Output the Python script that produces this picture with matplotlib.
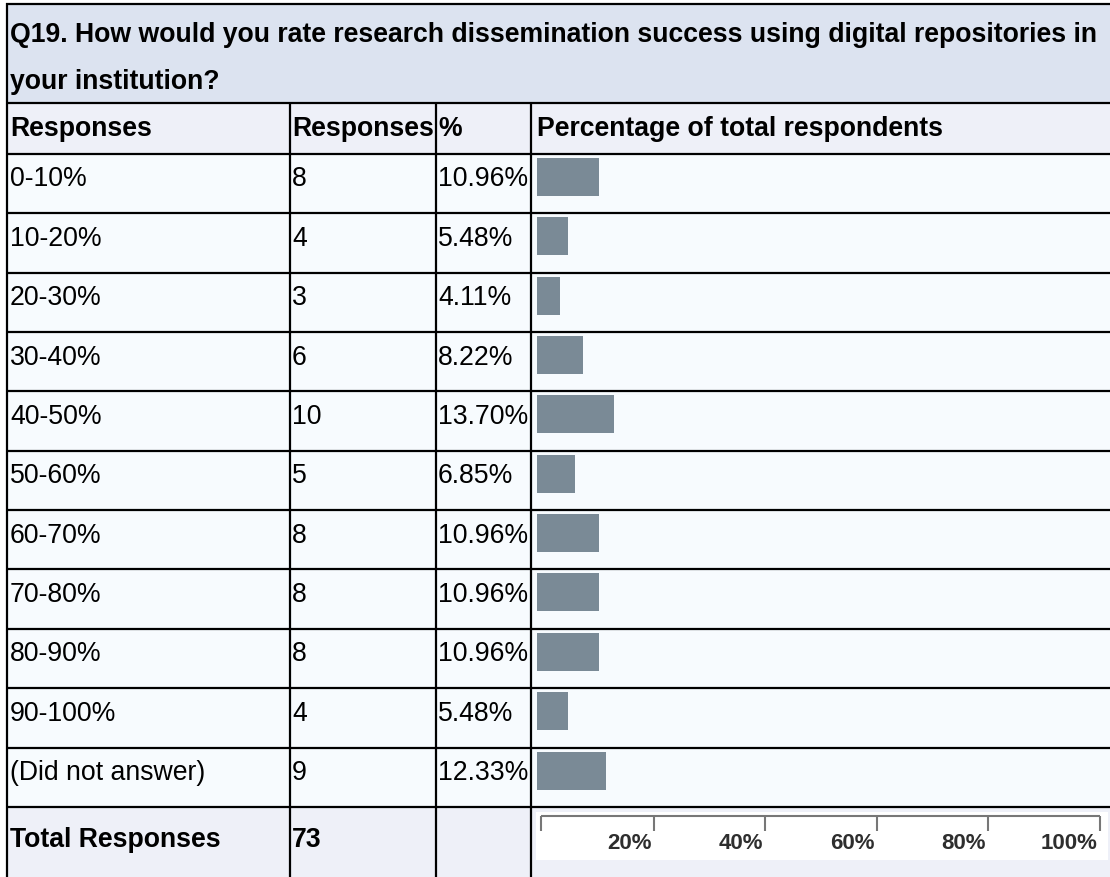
import matplotlib
matplotlib.use("Agg")
import matplotlib.pyplot as plt
from matplotlib.patches import Rectangle

# ---- survey data -------------------------------------------------------
title_lines = [
    "Q19. How would you rate research dissemination success using digital repositories in",
    "your institution?",
]
header = ["Responses", "Responses", "%", "Percentage of total respondents"]
categories = ["0-10%", "10-20%", "20-30%", "30-40%", "40-50%", "50-60%",
              "60-70%", "70-80%", "80-90%", "90-100%", "(Did not answer)"]
counts = [8, 4, 3, 6, 10, 5, 8, 8, 8, 4, 9]
percents = [10.96, 5.48, 4.11, 8.22, 13.70, 6.85, 10.96, 10.96, 10.96, 5.48, 12.33]
total_label = "Total Responses"
total_count = 73
scale_ticks = [20, 40, 60, 80, 100]

# ---- layout (pixels) ---------------------------------------------------
W, H = 1110, 878
col_x = [7, 289.5, 435.7, 531]
right = 1112
top = 5
title_bottom = 104
header_bottom = 155
row_h = 59.35
n = len(categories)
rows_bottom = header_bottom + n * row_h

title_bg = "#dce3f0"
header_bg = "#eef0f8"
row_bg = "#f7fbfe"
bar_color = "#7a8a96"
line_w = 1.6
font = ["Liberation Sans", "DejaVu Sans"]
fs = 19.2

fig = plt.figure(figsize=(W / 100, H / 100), dpi=100)
fig.patch.set_facecolor("white")
ax = fig.add_axes([0, 0, 1, 1])
ax.set_xlim(0, W)
ax.set_ylim(H, 0)
ax.axis("off")


def frac(x0, y0, x1, y1):
    return [x0 / W, 1 - y1 / H, (x1 - x0) / W, (y1 - y0) / H]


# backgrounds
ax.add_patch(Rectangle((col_x[0], top), right - col_x[0], title_bottom - top,
                       facecolor=title_bg, edgecolor="none", zorder=0))
ax.add_patch(Rectangle((col_x[0], title_bottom), right - col_x[0],
                       header_bottom - title_bottom,
                       facecolor=header_bg, edgecolor="none", zorder=0))
ax.add_patch(Rectangle((col_x[0], header_bottom), right - col_x[0],
                       rows_bottom - header_bottom,
                       facecolor=row_bg, edgecolor="none", zorder=0))
ax.add_patch(Rectangle((col_x[0], rows_bottom), right - col_x[0],
                       H - rows_bottom,
                       facecolor=header_bg, edgecolor="none", zorder=0))

# grid lines
h_lines = [top, title_bottom, header_bottom] + \
    [header_bottom + (i + 1) * row_h for i in range(n)]
for y in h_lines:
    ax.plot([col_x[0] - 1, right], [y, y], color="black", lw=line_w,
            solid_capstyle="butt", zorder=3)
ax.plot([col_x[0], col_x[0]], [top - 1, H + 2], color="black", lw=line_w,
        solid_capstyle="butt", zorder=3)
for x in col_x[1:]:
    ax.plot([x, x], [title_bottom, H + 2], color="black", lw=line_w,
            solid_capstyle="butt", zorder=3)

# title
ax.text(10, 42, title_lines[0], fontsize=fs, fontweight="bold",
        family=font, va="baseline", ha="left", color="black", zorder=4)
ax.text(10, 89, title_lines[1], fontsize=fs, fontweight="bold",
        family=font, va="baseline", ha="left", color="black", zorder=4)

# header row
text_x = [10, 292, 438, 537]
for tx, label in zip(text_x, header):
    ax.text(tx, title_bottom + 32, label, fontsize=fs, fontweight="bold",
            family=font, va="baseline", ha="left", zorder=4)

# data rows
for i, (cat, c, p) in enumerate(zip(categories, counts, percents)):
    y0 = header_bottom + i * row_h
    ax.text(text_x[0], y0 + 31.5, cat, fontsize=fs, family=font,
            va="baseline", ha="left", zorder=4)
    ax.text(text_x[1], y0 + 31.5, str(c), fontsize=fs, family=font,
            va="baseline", ha="left", zorder=4)
    ax.text(text_x[2], y0 + 31.5, f"{p:.2f}%", fontsize=fs, family=font,
            va="baseline", ha="left", zorder=4)

# total row
ax.text(text_x[0], rows_bottom + 39, total_label, fontsize=fs,
        fontweight="bold", family=font, va="baseline", ha="left", zorder=4)
ax.text(text_x[1], rows_bottom + 39, str(total_count), fontsize=fs,
        fontweight="bold", family=font, va="baseline", ha="left", zorder=4)

# bar chart column
bar_left, bar_right = 537, 1099
bax = fig.add_axes(frac(bar_left, header_bottom, bar_right, rows_bottom))
bax.set_xlim(0, 100)
bax.set_ylim(n, 0)
bax.axis("off")
bax.patch.set_alpha(0)
bar_h = 38 / row_h
centers = [i + (4 + 19) / row_h for i in range(n)]
bax.barh(centers, percents, height=bar_h, left=0, color=bar_color,
         edgecolor="none")

# percentage scale strip
ax.add_patch(Rectangle((536, rows_bottom + 5.5), 1108 - 536, 48,
                       facecolor="white", edgecolor="none", zorder=1))
scale_left, scale_right = 542, 1100
sax = fig.add_axes(frac(scale_left, rows_bottom + 5.5, scale_right,
                        rows_bottom + 53.5))
sax.set_xlim(0, 100)
sax.set_ylim(48, 0)
sax.axis("off")
sax.patch.set_alpha(0)
tick_col = "#777777"
line_y = 3.5
sax.plot([-0.2, 100], [line_y, line_y], color=tick_col, lw=1.5,
         solid_capstyle="butt", clip_on=False)
sax.vlines([-0.2] + scale_ticks, line_y, line_y + 15, color=tick_col, lw=1.5,
           clip_on=False)
for t in scale_ticks:
    sax.text(t - 0.4, 36, f"{t}%", fontsize=16, fontweight="bold",
             family=font, color="#2e2e2e", ha="right", va="baseline",
             clip_on=False)

fig.savefig("out.png", dpi=100, facecolor="white")
